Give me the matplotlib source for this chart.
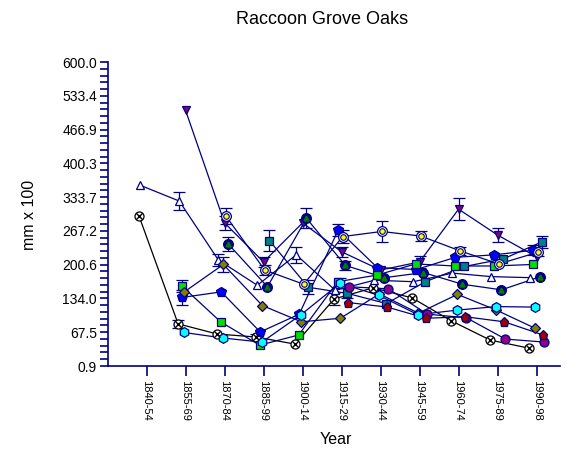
import numpy as np
import matplotlib
matplotlib.use('Agg')
import matplotlib.pyplot as plt
from matplotlib.ticker import AutoMinorLocator

plt.rcParams['font.family'] = ['Liberation Sans', 'DejaVu Sans']

nan = np.nan
periods = ['1840-54', '1855-69', '1870-84', '1885-99', '1900-14', '1915-29',
           '1930-44', '1945-59', '1960-74', '1975-89', '1990-98']

# mean ring width per period, one list per tree series
black_cx = [296, 84, 64, 58, 44, 133, 155, 135, 90, 52, 36]
navy_tri = [357, 326, 210, 160, 220, 150, 170, 167, 184, 177, 175]
purple_dtri = [nan, 505, 283, 206, 283, 226, 190, 206, 310, 259, 216]
navy_circ = [nan, nan, 241, 157, 292, 199, 175, 185, 162, 151, 177]
blue_pent = [nan, 136, 147, 68, 103, 269, 195, 191, 215, 220, 229]
green_sq = [nan, 159, 88, 42, 62, 167, 180, 202, 198, 198, 201]
teal_sq = [nan, nan, nan, 248, 156, 144, 124, 167, 197, 212, 246]
olive_dia = [nan, 147, 201, 120, 88, 95, 143, 105, 142, 111, 75]
cyan_hex = [nan, 67, 56, 48, 102, 164, 140, 102, 111, 118, 117]
purple_circ = [nan, nan, nan, nan, nan, 157, 153, 103, 96, 54, 48]
red_pent = [nan, nan, nan, nan, nan, 126, 117, 95, 98, 88, 62]
yellow_circ = [nan, nan, 297, 190, 162, 256, 266, 257, 228, 202, 225]

# error bars (0 = none visible)
black_cx_err = [0, 8, 0, 6, 0, 12, 0, 0, 0, 0, 0]
navy_tri_err = [0, 17, 12, 0, 16, 0, 0, 0, 0, 0, 0]
purple_dtri_err = [0, 0, 14, 10, 0, 10, 0, 12, 21, 13, 0]
navy_circ_err = [0, 0, 14, 0, 20, 8, 0, 0, 0, 0, 0]
blue_pent_err = [0, 14, 0, 0, 0, 12, 0, 0, 0, 0, 10]
green_sq_err = [0, 12, 0, 0, 0, 0, 0, 0, 0, 0, 0]
teal_sq_err = [0, 0, 0, 20, 14, 10, 0, 0, 0, 0, 12]
olive_dia_err = [0, 0, 14, 0, 0, 0, 0, 0, 0, 0, 0]
cyan_hex_err = [0, 0, 0, 0, 0, 10, 0, 0, 0, 0, 0]
purple_circ_err = [0] * 11
red_pent_err = [0] * 11
yellow_circ_err = [0, 0, 16, 10, 0, 12, 20, 10, 8, 0, 8]

navy = '#000080'

fig = plt.figure(figsize=(5.79, 4.55), dpi=100)
ax = fig.add_axes([108 / 579, 1 - 366 / 455, (560 - 108) / 579, (366 - 62) / 455])

x = np.arange(len(periods))

# (values, errors, x offset, line colour, marker, face colour, size)
series = [
    (black_cx, black_cx_err, -0.19, 'black', 'o', 'white', 6.5),
    (navy_tri, navy_tri_err, -0.16, navy, '^', 'white', 6),
    (purple_dtri, purple_dtri_err, 0.0, navy, 'v', '#800080', 6),
    (navy_circ, navy_circ_err, 0.1, navy, 'o', navy, 7),
    (blue_pent, blue_pent_err, -0.085, navy, 'p', '#0000ff', 7),
    (green_sq, green_sq_err, -0.1, navy, 's', '#00e000', 5.5),
    (teal_sq, teal_sq_err, 0.15, navy, 's', '#008080', 5.5),
    (olive_dia, olive_dia_err, -0.03, navy, 'D', '#808000', 5),
    (cyan_hex, cyan_hex_err, -0.04, navy, 'h', '#00ffff', 7),
    (purple_circ, purple_circ_err, 0.2, navy, 'o', '#8b008b', 6.5),
    (red_pent, red_pent_err, 0.17, navy, 'p', '#a00000', 6.5),
    (yellow_circ, yellow_circ_err, 0.03, navy, 'o', 'white', 7),
]

for vals, errs, off, lc, mk, fc, ms in series:
    xs = x + off
    vals = np.array(vals, dtype=float)
    errs = np.array(errs, dtype=float)
    ax.plot(xs, vals, color=lc, lw=0.9, zorder=2)
    has = errs > 0
    if has.any():
        ax.errorbar(xs[has], vals[has], yerr=errs[has], fmt='none', ecolor=navy,
                    elinewidth=0.9, capsize=4, capthick=0.9, zorder=2)
    ax.plot(xs, vals, ls='none', marker=mk, ms=ms, mfc=fc,
            mec='black' if lc == 'black' else navy, mew=0.9, zorder=3)

# inner details of compound markers
ax.plot(x - 0.19, black_cx, ls='none', marker='x', ms=4.5, mec='black', mew=1.0, zorder=4)
ax.plot(x + 0.1, navy_circ, ls='none', marker='^', ms=3.5, mfc='#008000', mec='#008000', zorder=4)
ax.plot(x + 0.03, yellow_circ, ls='none', marker='o', ms=4, mfc='#ffff00', mec=navy,
        mew=0.8, zorder=4)

ax.set_xlim(-0.987, 10.6)
ax.set_ylim(0.9, 600.0)
yt = np.linspace(0.9, 600.0, 10)
ax.set_yticks(yt)
ax.set_yticklabels(['%.1f' % v for v in yt], fontsize=10)
ax.yaxis.set_minor_locator(AutoMinorLocator(5))
ax.set_xticks(x)
ax.set_xticklabels(periods, rotation=270, fontsize=8, va='top', ha='center')

for s in ['top', 'right']:
    ax.spines[s].set_visible(False)
for s in ['left', 'bottom']:
    ax.spines[s].set_color(navy)
    ax.spines[s].set_linewidth(1.2)
ax.tick_params(axis='y', which='major', length=6, color=navy, width=1.2, pad=2)
ax.tick_params(axis='y', which='minor', length=6, color=navy, width=1.2)
ax.tick_params(axis='x', which='major', length=7, color=navy, width=1.2, pad=3)

fig.text(322 / 579, 1 - 20 / 455, 'Raccoon Grove Oaks', ha='center', va='center', fontsize=13)
fig.text(30 / 579, 1 - 215 / 455, 'mm x 100', rotation=90, ha='center', va='center', fontsize=11.5)
fig.text(336 / 579, 1 - 440 / 455, 'Year', ha='center', va='center', fontsize=11.5)

fig.savefig('out.png', dpi=100)
